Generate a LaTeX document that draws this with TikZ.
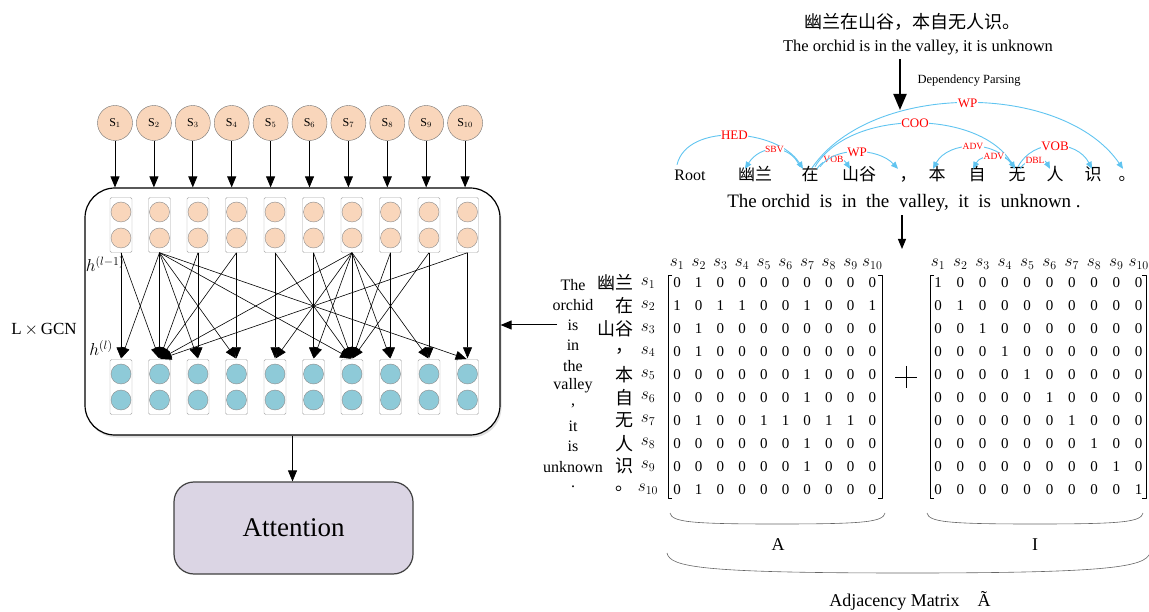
\documentclass[tikz,border=0pt]{standalone}
\usepackage{fontspec}
\setmainfont{Liberation Serif}
\newfontfamily\cjk{Noto Sans CJK SC}
\usetikzlibrary{arrows.meta,shadows}
\definecolor{peach}{RGB}{249,214,187}
\definecolor{cellblue}{RGB}{142,202,216}
\definecolor{arcblue}{RGB}{96,196,240}
\definecolor{lav}{RGB}{219,213,228}
\newcommand\fsz[1]{\fontsize{#1}{#1}\selectfont}
\begin{document}
\begin{tikzpicture}[x=1pt,y=-1pt,line join=round,>={Triangle[length=11pt,width=9pt]},
	snode/.style={circle,draw=black!55,fill=peach,minimum size=35pt,inner sep=0pt,font=\fsz{12}},
	hcol/.style={draw=black!35,fill=white,rounded corners=1.5pt,minimum width=22pt,minimum height=55pt,inner sep=0pt},
	hcirc/.style={circle,draw=black!45,fill=#1,minimum size=20pt,inner sep=0pt},
	dep/.style={draw=arcblue,line width=.9pt,-{Triangle[length=7pt,width=6pt]}},
	lbig/.style={fill=white,inner sep=.5pt,text=red,font=\fsz{13}},
	lsmall/.style={fill=white,inner sep=.3pt,text=red,font=\fsz{9.5}},
	wnode/.style={font=\cjk\fsz{17},inner sep=1pt,text height=11pt,text depth=3pt},
	ent/.style={font=\fsz{15},inner sep=0pt}]
	\useasboundingbox (0,0) rectangle (1149,612);
	% GCN block
	\node[draw,line width=1.2pt,rounded corners=30pt,fill=white,minimum width=415pt,minimum height=247pt,
		drop shadow={opacity=.25,shadow xshift=1.5pt,shadow yshift=-2.5pt}] (gcn) at (292.5,311.5) {};
	\foreach \i in {1,...,10}{
		\node[snode] (s\i) at ({115+38.9*(\i-1)},123) {$\mathrm{S}_{\i}$};
		\draw[line width=.8pt,->] (s\i) -- (s\i |- gcn.north);
		\node[hcol] (u\i) at ({121+38.5*(\i-1)},225) {};
		\node[hcirc=peach] at ({121+38.5*(\i-1)},212) {};
		\node[hcirc=peach] at ({121+38.5*(\i-1)},238) {};
		\node[hcol] (l\i) at ({121+38.5*(\i-1)},387) {};
		\node[hcirc=cellblue] at ({121+38.5*(\i-1)},374) {};
		\node[hcirc=cellblue] at ({121+38.5*(\i-1)},400) {};
	}
	\foreach \i/\j in {1/1,1/2,2/1,2/2,2/3,2/4,2/7,2/10,3/2,3/3,4/2,4/4,5/5,5/7,6/6,6/7,
		7/2,7/5,7/6,7/7,7/8,7/9,8/7,8/8,9/7,9/9,10/2,10/10}
		\draw[line width=.6pt,->,shorten >=1pt] (u\i.south) -- (l\j.north);
	\node[font=\fsz{18}] (hprev) at (105,264) {$h^{(l-1)}$};
	\node[font=\fsz{18}] (hcur) at (101,348) {$h^{(l)}$};
	\node[font=\fsz{17}] (lgcn) at (44,330) {L$\,\times\,$GCN};
	\node[draw=black!75,line width=1.2pt,fill=lav,rounded corners=20pt,minimum width=239pt,minimum height=92pt,
		font=\fsz{27}] (att) at (293.5,528) {Attention};
	\draw[line width=.8pt,->] (gcn.south) -- (gcn.south |- att.north);
	\coordinate (m) at (557,325);
	\draw[line width=1pt,->] (m) -- (m -| gcn.east);
	% sentence and parsing
	\node[font=\cjk\fsz{18}] (zh) at (912,22) {幽兰在山谷，本自无人识。};
	\node[font=\fsz{16.5}] (en) at (918,48) {The orchid is in the valley, it is unknown};
	\coordinate (dp) at (900,110);
	\draw[line width=2pt,-{Triangle[length=16pt,width=13pt]}] (dp |- en.south) -- (dp);
	\node[font=\fsz{12.5},anchor=west] (dplab) at (914,81) {Dependency Parsing};
	\node[wnode,font=\fsz{16}] (root) at (690,177) {Root};
	\foreach \w/\x/\n in {幽兰/755/w1,在/810/w2,山谷/859/w3,，/908/w4,本/937/w5,自/977/w6,无/1017/w7,人/1055/w8,识/1093/w9,。/1127/w10}
		\node[wnode] (\n) at (\x,177) {\w};
	\node[font=\fsz{19}] (en2) at (904,203) {The orchid\ \ is\ \ in\ \ the\ \ valley,\ \ it\ \ is\ \ unknown\ .};
	\draw[dep] ([xshift=-13pt,yshift=4pt]root.north) .. controls +(10,-43) and +(-25,-40) .. node[lbig]{HED} ([xshift=-7pt]w2.north);
	\draw[dep] ([xshift=-10pt,yshift=2pt]w2.north) .. controls +(-10,-24) and +(15,-24) .. node[lsmall]{SBV} ([xshift=-10pt]w1.north);
	\draw[dep] ([xshift=7pt]w2.north) .. controls +(8,-13) and +(-8,-13) .. node[lsmall]{VOB} ([xshift=-9pt]w3.north);
	\draw[dep] ([xshift=10pt,yshift=2pt]w2.north) .. controls +(15,-21) and +(-20,-21) .. node[lbig]{WP} ([xshift=-10pt]w4.north);
	\draw[dep] ([xshift=5pt,yshift=2pt]w2.north) .. controls +(35,-59) and +(-35,-59) .. node[lbig]{COO} ([xshift=-2pt]w7.north);
	\draw[dep] ([xshift=2pt,yshift=1pt]w2.north) .. controls +(60,-87) and +(-60,-87) .. node[lbig]{WP} ([xshift=-4pt]w10.north);
	\draw[dep] ([xshift=-4pt,yshift=2pt]w7.north) .. controls +(-15,-28) and +(15,-28) .. node[lsmall]{ADV} ([xshift=-4pt]w5.north);
	\draw[dep] ([xshift=-2pt,yshift=2pt]w7.north) .. controls +(-8,-15) and +(8,-15) .. node[lsmall]{ADV} ([xshift=-4pt]w6.north);
	\draw[dep] ([xshift=3pt]w7.north) .. controls +(6,-11) and +(-6,-11) .. node[lsmall]{DBL} ([xshift=-5pt]w8.north);
	\draw[dep] ([xshift=1pt,yshift=2pt]w7.north) .. controls +(15,-29) and +(-15,-29) .. node[lbig]{VOB} ([xshift=-1pt]w9.north);
	\coordinate (pa) at (902,249);
	\draw[line width=1.1pt,-{Triangle[length=10pt,width=8pt]}] (pa |- en2.south) -- (pa);
	% adjacency matrices
	\foreach \c in {1,...,10}{
		\node[font=\fsz{17}] (ha\c) at ({677+21.7*(\c-1)},264) {$s_{\c}$};
		\node[font=\fsz{17}] (hi\c) at ({938+22.3*(\c-1)},264) {$s_{\c}$};
	}
	\foreach \row [count=\r] in {{0,1,0,0,0,0,0,0,0,0},{1,0,1,1,0,0,1,0,0,1},{0,1,0,0,0,0,0,0,0,0},
		{0,1,0,0,0,0,0,0,0,0},{0,0,0,0,0,0,1,0,0,0},{0,0,0,0,0,0,1,0,0,0},{0,1,0,0,1,1,0,1,1,0},
		{0,0,0,0,0,0,1,0,0,0},{0,0,0,0,0,0,1,0,0,0},{0,1,0,0,0,0,0,0,0,0}}{
		\node[font=\fsz{17}] (rs\r) at (648,{283+22.9*(\r-1)}) {$s_{\r}$};
		\foreach \v [count=\c] in \row{
			\node[ent] (a\r-\c) at ({677+21.7*(\c-1)},{283+22.9*(\r-1)}) {\v};
			\node[ent] (i\r-\c) at ({938+22.3*(\c-1)},{283+22.9*(\r-1)}) {\ifnum\r=\c\relax 1\else 0\fi};
		}
	}
	\foreach \w [count=\r] in {幽兰,在,山谷,，,本,自,无,人,识,。}
		\node[font=\cjk\fsz{18},anchor=east,inner sep=0pt] (zr\r) at (634,{283+22.9*(\r-1)}) {\w};
	\foreach \w [count=\k] in {The,orchid,is,in,the,valley,{,},it,is,unknown,.}
		\node[font=\fsz{16},inner sep=0pt] (er\k) at (573,{285+20.2*(\k-1)}) {\w};
	\draw[line width=.7pt] (672,275) -- (668,275) -- (668,498) -- (672,498);
	\draw[line width=.7pt] (878,275) -- (882,275) -- (882,498) -- (878,498);
	\draw[line width=.7pt] (934,275) -- (930,275) -- (930,498) -- (934,498);
	\draw[line width=.7pt] (1142,275) -- (1146,275) -- (1146,498) -- (1142,498);
	\draw[line width=.8pt] (906,366) -- (906,388) (895,377) -- (917,377);
	% braces
	\draw[black!60,line width=.6pt] (670,513) .. controls (672,522) and (690,524) .. (777,524) .. controls (865,524) and (883,522) .. (885,513);
	\draw[black!60,line width=.6pt] (927,513) .. controls (929,522) and (947,524) .. (1035,524) .. controls (1123,524) and (1141,522) .. (1143,513);
	\draw[black!60,line width=.6pt] (667,553) .. controls (670,567) and (700,573) .. (908,573) .. controls (1110,573) and (1145,567) .. (1150,553);
	\node[font=\fsz{18}] (lA) at (778,545) {A};
	\node[font=\fsz{18}] (lI) at (1035,545) {I};
	\node[font=\fsz{18}] (ladj) at (910,601) {Adjacency Matrix\quad Ã};
\end{tikzpicture}
\end{document}
